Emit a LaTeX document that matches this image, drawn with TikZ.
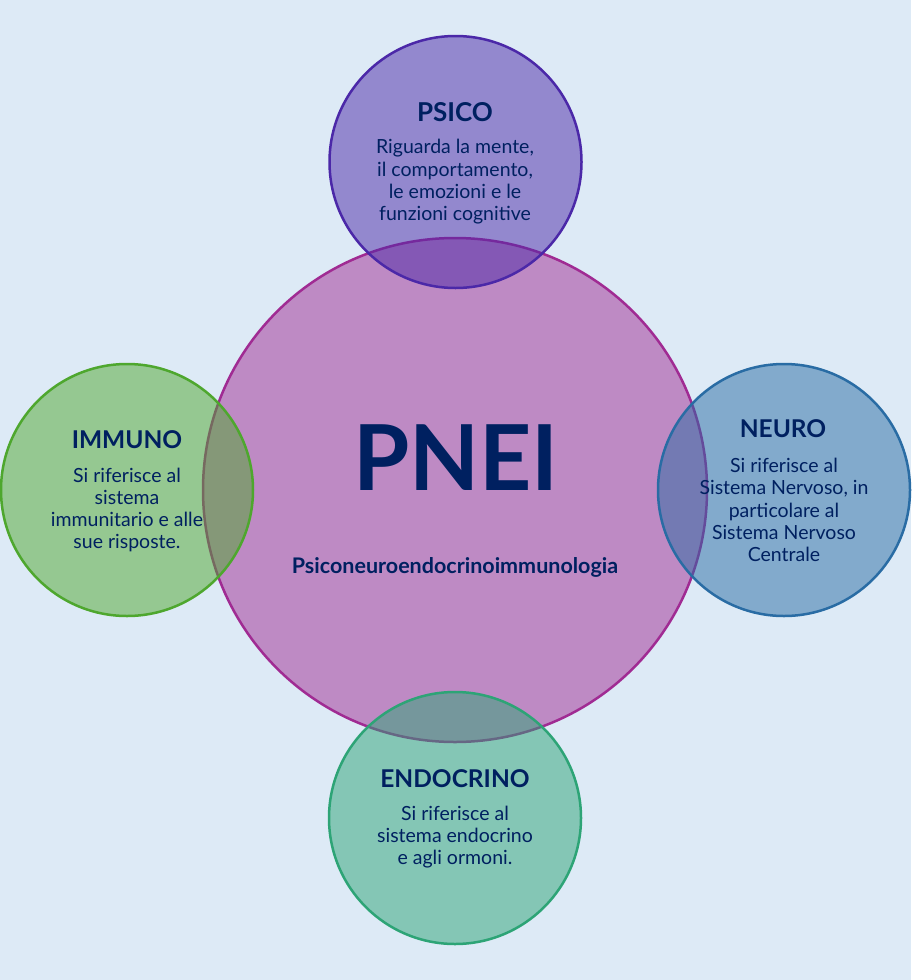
\documentclass[tikz,border=0pt]{standalone}
\usepackage{fontspec}
\setmainfont{Lato}
\definecolor{bgc}{HTML}{DDEAF6}
\definecolor{txt}{HTML}{002060}
\definecolor{cmain}{HTML}{A02B93}
\definecolor{cpsico}{HTML}{4B28A8}
\definecolor{cimmuno}{HTML}{4EA72E}
\definecolor{cneuro}{HTML}{296CA4}
\definecolor{cendo}{HTML}{2DA476}
\begin{document}
\begin{tikzpicture}[x=1pt,y=-1pt,
  blob/.style={circle,inner sep=0pt,line width=2.5pt,draw=#1,fill=#1,fill opacity=0.5,draw opacity=1},
  ttl/.style={text=txt,anchor=base,font=\fontsize{24.5}{28}\selectfont\bfseries},
  bodytxt/.style={text=txt,align=center,anchor=center,font=\fontsize{19.5}{22.3}\selectfont}]
\fill[bgc] (0,0) rectangle (911,980);
\useasboundingbox (0,0) rectangle (911,980);
\node[blob=cmain,minimum size=504pt] (main) at (455,490) {};
\node[blob=cpsico,minimum size=252pt] (psico) at (455.5,162) {};
\node[blob=cimmuno,minimum size=252pt] (immuno) at (127,490) {};
\node[blob=cneuro,minimum size=252pt] (neuro) at (784,490) {};
\node[blob=cendo,minimum size=252pt] (endo) at (455,818) {};
\node[text=txt,anchor=base,font=\fontsize{91}{100}\selectfont\bfseries] (pnei) at (456,490) {PNEI};
\node[text=txt,anchor=base,font=\fontsize{21.5}{24}\selectfont\bfseries] (pneifull) at (455,573) {Psiconeuroendocrinoimmunologia};
\node[ttl,font=\fontsize{26}{28}\selectfont\bfseries] (tpsico) at (455,121) {PSICO};
\node[bodytxt] (bpsico) at (455,182) {Riguarda la mente,\\il comportamento,\\le emozioni e le\\funzioni cognitive};
\node[ttl] (timmuno) at (127,448) {IMMUNO};
\node[bodytxt] (bimmuno) at (127,510) {Si riferisce al\\sistema\\immunitario e alle\\sue risposte.};
\node[ttl] (tneuro) at (783,437) {NEURO};
\node[bodytxt] (bneuro) at (784,510) {Si riferisce al\\Sistema Nervoso, in\\particolare al\\Sistema Nervoso\\Centrale};
\node[ttl] (tendo) at (455,787) {ENDOCRINO};
\node[bodytxt] (bendo) at (455,837) {Si riferisce al\\sistema endocrino\\e agli ormoni.};
\end{tikzpicture}
\end{document}
